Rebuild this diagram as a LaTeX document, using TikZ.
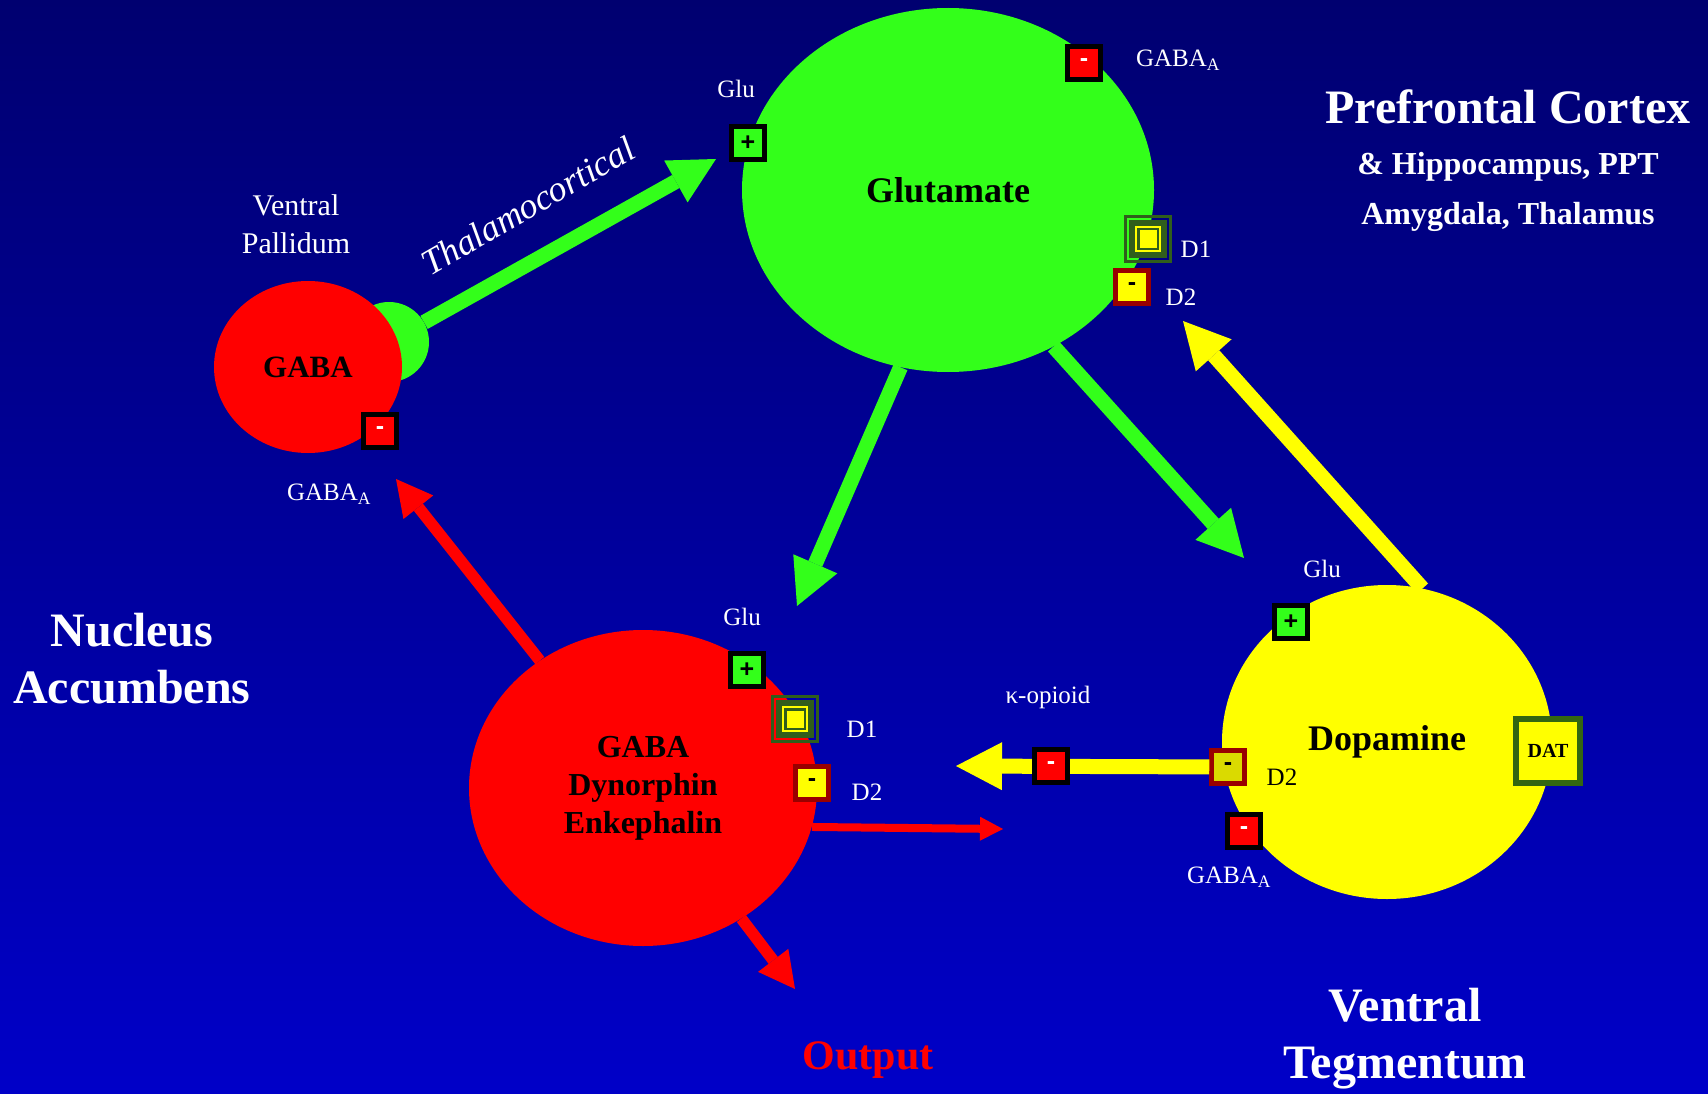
\documentclass[tikz,border=0pt]{standalone}
\usepackage{fontspec}
\setmainfont{Liberation Serif}
\setsansfont{Liberation Sans}
\usetikzlibrary{arrows.meta,positioning,shapes.geometric}
\definecolor{bgtop}{RGB}{0,0,112}
\definecolor{bgbot}{RGB}{0,0,200}
\definecolor{cgreen}{RGB}{51,255,26}
\definecolor{cred}{RGB}{255,0,0}
\definecolor{cyellow}{RGB}{255,255,0}
\definecolor{dimyellow}{RGB}{218,218,0}
\definecolor{d2red}{RGB}{153,0,0}
\definecolor{d1green}{RGB}{48,94,28}
\definecolor{datgreen}{RGB}{51,102,17}
\tikzset{x=1pt, y=-1pt, % one unit per pixel, y pointing down
cell/.style={ellipse, inner sep=0pt, font=\fontsize{36}{43}\selectfont\bfseries}, % cell bodies
recep/.style={rectangle, inner sep=0pt, minimum size=33pt, line width=4.5pt, font=\fontsize{25}{25}\selectfont\sffamily\bfseries}, % receptor boxes
plusbox/.style={recep, fill=cgreen, draw=black},
gababox/.style={recep, fill=cred, draw=black, text=white},
dtwobox/.style={recep, fill=cyellow, draw=d2red},
donebox/.style={rectangle, inner sep=0pt, minimum size=45pt, draw=d1green, line width=3pt,
  path picture={
    \fill[d1green] ([shift={(-19pt,-19pt)}]path picture bounding box.center) rectangle ([shift={(19pt,19pt)}]path picture bounding box.center);
    \draw[cyellow, line width=2.5pt] ([shift={(-12pt,-12pt)}]path picture bounding box.center) rectangle ([shift={(12pt,12pt)}]path picture bounding box.center);
    \fill[cyellow] ([shift={(-8.5pt,-8.5pt)}]path picture bounding box.center) rectangle ([shift={(8.5pt,8.5pt)}]path picture bounding box.center);
  }}, % nested D1 squares
datbox/.style={rectangle, inner sep=0pt, minimum size=64pt, line width=6pt, draw=datgreen, fill=cyellow, font=\fontsize{20}{20}\selectfont\bfseries},
lbl/.style={text=white, font=\fontsize{25}{30}\selectfont}, % small receptor names
region/.style={text=white, align=center, font=\fontsize{48}{57}\selectfont\bfseries}, % brain regions
greenarrow/.style={cgreen, line width=15pt, -{Triangle[length=46pt, width=48pt, line width=0pt]}},
yellowarrow/.style={cyellow, line width=15pt, -{Triangle[length=46pt, width=48pt, line width=0pt]}},
redarrow/.style={cred, line width=11.5pt, -{Triangle[length=36pt, width=38pt, line width=0pt]}},
thinarrow/.style={cred, line width=8pt, -{Triangle[length=23pt, width=24pt, line width=0pt]}},
}

\begin{document}
\begin{tikzpicture}
\fill[top color=bgtop, bottom color=bgbot] (0,0) rectangle (1708,1094);
\useasboundingbox (0,0) rectangle (1708,1094);
% cells
\node[circle, fill=cgreen, minimum size=80pt, inner sep=0pt] (bump) at (389,342) {};
\node[cell, fill=cred, minimum width=188pt, minimum height=172pt, font=\fontsize{31}{37}\selectfont\bfseries] (vp) at (308,367) {GABA};
\node[cell, fill=cgreen, minimum width=412pt, minimum height=364pt] (glu) at (948,190) {Glutamate};
\node[cell, fill=cred, minimum width=348pt, minimum height=316pt, align=center, font=\fontsize{32}{38}\selectfont\bfseries] (nac) at (643,788) {GABA\\Dynorphin\\Enkephalin};
\node[cell, fill=cyellow, minimum width=330pt, minimum height=314pt] (da) at (1387,742) {Dopamine};
% arrow ends
\coordinate (thalTip) at (716,159);
\coordinate (nacGluTip) at (797,606);
\coordinate (daGluTip) at (1244,558);
\coordinate (gluDaTip) at (1183,321);
\coordinate (vpTip) at (396,479);
\coordinate (outTip) at (795,989);
\coordinate (rightTip) at (1003,829);
\coordinate (opioidTip) at (956,766);
\draw (bump) edge[greenarrow] (thalTip)
(glu.255) edge[greenarrow] (nacGluTip)
(glu.-56) edge[greenarrow] (daGluTip)
(da.77) edge[yellowarrow] (gluDaTip)
(nac.129) edge[redarrow] (vpTip)
(nac.-53) edge[redarrow] (outTip)
(nac.-13) edge[thinarrow] (rightTip);
% receptors
\node[plusbox] (gluPlus) at (748,143) {+};
\node[gababox] (gluGaba) at (1084,63) {-};
\node[donebox] (gluD1) at (1148,239) {};
\node[dtwobox] (gluD2) at (1132,287) {-};
\node[gababox] (vpGaba) at (380,431) {-};
\node[plusbox] (nacPlus) at (747,670) {+};
\node[donebox] (nacD1) at (795,719) {};
\node[dtwobox] (nacD2) at (812,783) {-};
\node[plusbox] (daPlus) at (1291,622) {+};
\node[dtwobox, fill=dimyellow] (daD2) at (1228,767) {-};
\node[gababox] (daGaba) at (1244,831) {-};
\node[datbox] (dat) at (1548,751) {DAT};
\draw (daD2) edge[yellowarrow] (opioidTip);
\node[gababox] (kappaGaba) at (1051,766) {-};
% receptor names
\node[lbl] (gluGluL) at (736,89) {Glu};
\node[lbl] (gluGabaL) at (1178,60) {GABA\textsubscript{A}};
\node[lbl] (gluD1L) at (1196,249) {D1};
\node[lbl] (gluD2L) at (1181,297) {D2};
\node[lbl] (vpGabaL) at (329,494) {GABA\textsubscript{A}};
\node[lbl] (nacGluL) at (742,617) {Glu};
\node[lbl] (nacD1L) at (862,729) {D1};
\node[lbl] (nacD2L) at (867,792) {D2};
\node[lbl] (kappaL) at (1048,697) {κ-opioid};
\node[lbl] (daGluL) at (1322,569) {Glu};
\node[lbl, text=black] (daD2L) at (1282,777) {D2};
\node[lbl] (daGabaL) at (1229,877) {GABA\textsubscript{A}};
% regions
\node[region] (pfc) at (1508,107) {Prefrontal Cortex};
\node[region, font=\fontsize{32}{38}\selectfont\bfseries] (pfcMore) at (1508,167) {\& Hippocampus, PPT};
\node[region, font=\fontsize{32}{38}\selectfont\bfseries] (pfcRest) at (1508,217) {Amygdala, Thalamus};
\node[region] (accumbens) at (132,659) {Nucleus\\Accumbens};
\node[region] (tegmentum) at (1405,1039) {Ventral\\Tegmentum};
\node[region, text=cred, font=\fontsize{42}{50}\selectfont\bfseries] (output) at (868,1060) {Output};
\node[lbl, align=center, font=\fontsize{30}{38}\selectfont] (pallidum) at (296,224) {Ventral\\Pallidum};
\node[lbl, rotate=30, font=\fontsize{36}{42}\selectfont\itshape] (thal) at (528,206) {Thalamocortical};
\end{tikzpicture}
\end{document}
